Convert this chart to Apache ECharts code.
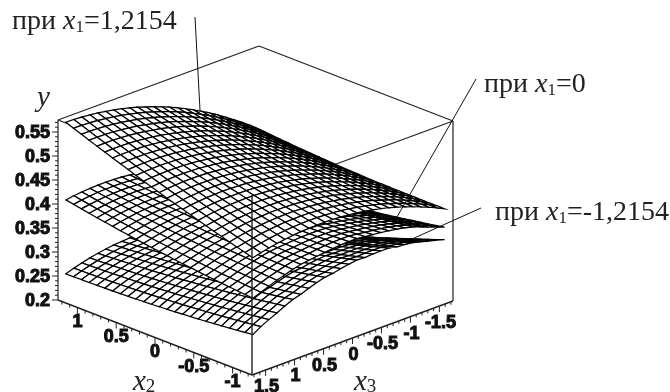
<!DOCTYPE html>
<html>
<head>
<meta charset="utf-8">
<style>
html, body { margin: 0; padding: 0; background: #fff; }
#chart { width: 670px; height: 392px; }
</style>
<script src="https://cdn.jsdelivr.net/npm/echarts@6/dist/echarts.min.js"></script>
</head>
<body>
<div id="chart"></div>
<script>
// mesh nodes of the three surfaces
var x2Nodes = [1.205,1.105,1.004,0.904,0.803,0.703,0.602,0.502,0.402,0.301,0.201,0.1,0,-0.1,-0.201,-0.301,-0.402,-0.502,-0.602,-0.703,-0.803,-0.904,-1.004,-1.105,-1.205];
var x3Nodes = [1.66,1.522,1.384,1.246,1.108,0.971,0.833,0.695,0.557,0.419,0.281,0.143,0.005,-0.133,-0.271,-0.409,-0.547,-0.685,-0.823,-0.96,-1.098,-1.236,-1.374,-1.512,-1.65];

// y, in units of 0.0001; rows follow x2Nodes, columns x3Nodes
var yTop = [
[5700,5695,5684,5669,5647,5620,5589,5551,5509,5461,5407,5349,5285,5215,5141,5060,4975,4885,4788,4687,4580,4468,4351,4228,4100],
[5637,5634,5625,5612,5592,5567,5538,5502,5462,5416,5364,5308,5246,5178,5106,5027,4944,4856,4761,4662,4557,4447,4332,4211,4085],
[5574,5573,5566,5555,5537,5514,5487,5453,5415,5371,5321,5267,5207,5141,5071,4994,4913,4827,4734,4637,4534,4426,4313,4194,4070],
[5512,5513,5508,5499,5483,5462,5437,5405,5369,5327,5279,5227,5169,5105,5037,4962,4883,4799,4708,4613,4512,4406,4295,4178,4056],
[5451,5454,5451,5444,5430,5411,5388,5358,5324,5284,5238,5188,5132,5070,5004,4931,4854,4772,4683,4590,4491,4387,4278,4163,4043],
[5390,5395,5394,5389,5377,5360,5339,5311,5279,5241,5197,5149,5095,5035,4971,4900,4825,4745,4658,4567,4470,4368,4261,4148,4030],
[5330,5337,5338,5335,5325,5310,5291,5265,5235,5199,5157,5111,5059,5001,4939,4870,4797,4719,4634,4545,4450,4350,4245,4134,4018],
[5271,5280,5283,5282,5274,5261,5244,5220,5192,5158,5118,5074,5024,4968,4908,4841,4770,4694,4611,4524,4431,4333,4230,4121,4007],
[5213,5224,5229,5230,5224,5213,5198,5176,5150,5118,5080,5038,4990,4936,4878,4813,4744,4670,4589,4504,4413,4317,4216,4109,3997],
[5155,5168,5175,5178,5174,5165,5152,5132,5108,5078,5042,5002,4956,4904,4848,4785,4718,4646,4567,4484,4395,4301,4202,4097,3987],
[5098,5113,5122,5127,5125,5118,5107,5089,5067,5039,5005,4967,4923,4873,4819,4758,4693,4623,4546,4465,4378,4286,4189,4086,3978],
[5042,5059,5070,5077,5077,5072,5063,5047,5027,5001,4969,4933,4891,4843,4791,4732,4669,4601,4526,4447,4362,4272,4177,4076,3970],
[4987,5006,5019,5028,5030,5027,5020,5006,4988,4964,4934,4900,4860,4814,4764,4707,4646,4580,4507,4430,4347,4259,4166,4067,3963],
[4932,4953,4968,4979,4983,4982,4977,4965,4949,4927,4899,4867,4829,4785,4737,4682,4623,4559,4488,4413,4332,4246,4155,4058,3956],
[4878,4901,4918,4931,4937,4938,4935,4925,4911,4891,4865,4835,4799,4757,4711,4658,4601,4539,4470,4397,4318,4234,4145,4050,3950],
[4825,4850,4869,4884,4892,4895,4894,4886,4874,4856,4832,4804,4770,4730,4686,4635,4580,4520,4453,4382,4305,4223,4136,4043,3945],
[4773,4800,4821,4838,4848,4853,4854,4848,4838,4822,4800,4774,4742,4704,4662,4613,4560,4502,4437,4368,4293,4213,4128,4037,3941],
[4721,4750,4773,4792,4804,4811,4814,4810,4802,4788,4768,4744,4714,4678,4638,4591,4540,4484,4421,4354,4281,4203,4120,4031,3937],
[4670,4701,4726,4747,4761,4770,4775,4773,4767,4755,4737,4715,4687,4653,4615,4570,4521,4467,4406,4341,4270,4194,4113,4026,3934],
[4620,4653,4680,4703,4719,4730,4737,4737,4733,4723,4707,4687,4661,4629,4593,4550,4503,4451,4392,4329,4260,4186,4107,4022,3932],
[4571,4606,4635,4660,4678,4691,4700,4702,4700,4692,4678,4660,4636,4606,4572,4531,4486,4436,4379,4318,4251,4179,4102,4019,3931],
[4522,4559,4590,4617,4637,4652,4663,4667,4667,4661,4649,4633,4611,4583,4551,4512,4469,4421,4366,4307,4242,4172,4097,4016,3930],
[4474,4513,4546,4575,4597,4614,4627,4633,4635,4631,4621,4607,4587,4561,4531,4494,4453,4407,4354,4297,4234,4166,4093,4014,3930],
[4427,4468,4503,4534,4558,4577,4592,4600,4604,4602,4594,4582,4564,4540,4512,4477,4438,4394,4343,4288,4227,4161,4090,4013,3931],
[4380,4423,4460,4493,4519,4540,4557,4567,4573,4573,4567,4557,4541,4519,4493,4460,4423,4381,4332,4279,4220,4156,4087,4012,3932]
];
var yMid = [
[4080,4105,4123,4137,4143,4145,4139,4128,4111,4087,4058,4024,3983,3935,3882,3822,3757,3686,3609,3526,3437,3341,3240,3133,3020],
[4049,4076,4096,4112,4120,4124,4120,4110,4095,4073,4046,4014,3975,3929,3877,3819,3756,3687,3612,3531,3444,3349,3250,3145,3034],
[4019,4047,4069,4087,4097,4103,4101,4093,4079,4059,4034,4004,3967,3923,3873,3816,3755,3688,3615,3536,3451,3358,3260,3157,3048],
[3989,4019,4043,4063,4075,4083,4083,4076,4064,4046,4023,3995,3960,3918,3869,3814,3755,3690,3619,3542,3459,3367,3271,3170,3063],
[3961,3992,4018,4040,4054,4064,4066,4061,4050,4034,4013,3987,3954,3914,3867,3813,3756,3693,3624,3549,3468,3378,3283,3184,3079],
[3932,3965,3993,4017,4033,4045,4049,4045,4036,4022,4003,3979,3948,3910,3864,3812,3757,3696,3629,3556,3477,3388,3295,3198,3095],
[3905,3939,3969,3995,4013,4027,4033,4031,4023,4011,3994,3972,3943,3907,3863,3812,3759,3700,3635,3564,3487,3400,3308,3213,3112],
[3878,3914,3946,3974,3994,4010,4018,4017,4011,4001,3986,3966,3939,3905,3862,3813,3762,3705,3642,3573,3498,3412,3322,3229,3130],
[3853,3890,3924,3954,3976,3994,4004,4005,4000,3992,3979,3961,3936,3904,3863,3815,3766,3711,3650,3583,3510,3426,3337,3246,3149],
[3827,3866,3902,3934,3958,3978,3990,3992,3989,3983,3972,3956,3933,3903,3863,3817,3770,3717,3658,3593,3522,3439,3352,3263,3168],
[3803,3843,3881,3915,3941,3963,3977,3981,3979,3975,3966,3952,3931,3903,3865,3820,3775,3724,3667,3604,3535,3454,3368,3281,3188],
[3779,3821,3861,3897,3925,3949,3965,3970,3970,3968,3961,3949,3930,3904,3867,3824,3781,3732,3677,3616,3549,3469,3385,3300,3209],
[3757,3800,3842,3880,3910,3936,3954,3961,3962,3962,3957,3947,3930,3906,3871,3829,3788,3741,3688,3629,3564,3486,3403,3320,3231],
[3734,3779,3823,3863,3895,3923,3943,3951,3954,3956,3953,3945,3930,3908,3874,3834,3795,3750,3699,3642,3579,3502,3421,3340,3253],
[3713,3759,3805,3847,3881,3911,3933,3943,3947,3951,3950,3944,3931,3911,3879,3840,3803,3760,3711,3656,3595,3520,3440,3361,3276],
[3692,3740,3788,3832,3868,3900,3924,3935,3941,3947,3948,3944,3933,3915,3884,3847,3812,3771,3724,3671,3612,3538,3460,3383,3300],
[3673,3722,3772,3818,3856,3890,3916,3929,3936,3944,3947,3945,3936,3920,3891,3855,3822,3783,3738,3687,3630,3558,3481,3406,3325],
[3653,3704,3756,3804,3844,3880,3908,3922,3931,3941,3946,3946,3939,3925,3897,3863,3832,3795,3752,3703,3648,3577,3502,3429,3350],
[3635,3687,3741,3791,3833,3871,3901,3917,3927,3939,3946,3948,3943,3931,3905,3872,3843,3808,3767,3720,3667,3598,3524,3453,3376],
[3617,3671,3727,3779,3823,3863,3895,3912,3924,3938,3947,3951,3948,3938,3913,3882,3855,3822,3783,3738,3687,3619,3547,3478,3403],
[3601,3656,3714,3768,3814,3856,3890,3909,3922,3938,3949,3955,3954,3946,3923,3893,3868,3837,3800,3757,3708,3642,3571,3504,3431],
[3584,3641,3701,3757,3805,3849,3885,3905,3920,3938,3951,3959,3960,3954,3932,3904,3881,3852,3817,3776,3729,3664,3595,3530,3459],
[3569,3627,3689,3747,3797,3843,3881,3903,3919,3939,3954,3964,3967,3963,3943,3916,3895,3868,3835,3796,3751,3688,3620,3557,3488],
[3554,3614,3678,3738,3790,3838,3878,3901,3919,3941,3958,3970,3975,3973,3954,3929,3910,3885,3854,3817,3774,3712,3646,3585,3518],
[3540,3601,3667,3729,3783,3833,3875,3900,3919,3943,3962,3976,3983,3983,3966,3942,3925,3902,3873,3838,3797,3737,3672,3613,3548]
];
var yBottom = [
[2540,2596,2645,2687,2722,2750,2773,2788,2797,2799,2794,2784,2767,2743,2711,2674,2630,2579,2522,2459,2389,2311,2228,2138,2040],
[2542,2600,2651,2694,2731,2761,2785,2802,2813,2817,2813,2805,2790,2768,2737,2702,2660,2611,2555,2494,2426,2350,2268,2180,2084],
[2544,2604,2656,2701,2740,2772,2797,2816,2829,2835,2832,2826,2813,2793,2763,2730,2690,2643,2588,2529,2463,2388,2308,2222,2128],
[2547,2609,2663,2709,2750,2784,2810,2831,2846,2854,2852,2848,2837,2819,2790,2759,2721,2676,2622,2565,2501,2428,2349,2265,2173],
[2551,2615,2670,2718,2761,2797,2824,2847,2864,2874,2873,2871,2862,2846,2818,2789,2753,2710,2657,2602,2540,2468,2391,2309,2219],
[2555,2621,2678,2727,2772,2810,2838,2863,2882,2894,2894,2894,2887,2873,2846,2819,2785,2744,2692,2639,2579,2509,2433,2353,2265],
[2560,2628,2686,2737,2784,2824,2853,2880,2901,2915,2916,2918,2913,2901,2875,2850,2818,2779,2728,2677,2619,2550,2476,2398,2312],
[2566,2636,2696,2748,2797,2839,2869,2898,2921,2937,2939,2943,2940,2930,2905,2882,2852,2815,2765,2716,2660,2593,2520,2444,2360],
[2573,2645,2706,2760,2811,2855,2886,2917,2942,2960,2963,2969,2968,2960,2936,2915,2887,2852,2803,2756,2702,2636,2565,2491,2409],
[2580,2654,2717,2772,2825,2871,2903,2936,2963,2983,2987,2995,2996,2990,2967,2948,2922,2889,2841,2796,2744,2680,2610,2538,2458],
[2588,2664,2728,2785,2840,2888,2921,2956,2985,3007,3012,3022,3025,3021,2999,2982,2958,2927,2880,2837,2787,2724,2656,2586,2508],
[2597,2675,2741,2799,2856,2906,2940,2977,3008,3032,3038,3050,3055,3053,3032,3017,2995,2966,2920,2879,2831,2770,2703,2635,2559],
[2607,2687,2754,2814,2873,2925,2960,2999,3032,3058,3065,3079,3086,3086,3066,3053,3033,3006,2961,2922,2876,2816,2751,2685,2611],
[2617,2699,2768,2829,2890,2944,2980,3021,3056,3084,3092,3108,3117,3119,3100,3089,3071,3046,3002,2965,2921,2863,2799,2735,2663],
[2628,2712,2782,2845,2908,2964,3001,3044,3081,3111,3120,3138,3149,3153,3135,3126,3110,3087,3044,3009,2967,2910,2848,2786,2716],
[2640,2726,2798,2862,2927,2985,3023,3068,3107,3139,3149,3169,3182,3188,3171,3164,3150,3129,3087,3054,3014,2959,2898,2838,2770],
[2653,2741,2814,2880,2947,3007,3046,3093,3134,3168,3179,3201,3216,3224,3208,3203,3191,3172,3131,3100,3062,3008,2949,2891,2825],
[2666,2756,2831,2898,2967,3029,3069,3118,3161,3197,3209,3233,3250,3260,3245,3242,3232,3215,3175,3146,3110,3058,3000,2944,2880],
[2680,2772,2848,2917,2988,3052,3093,3144,3189,3227,3240,3266,3285,3297,3283,3282,3274,3259,3220,3193,3159,3108,3052,2998,2936],
[2695,2789,2867,2937,3010,3076,3118,3171,3218,3258,3272,3300,3321,3335,3322,3323,3317,3304,3266,3241,3209,3160,3105,3053,2993],
[2711,2807,2886,2958,3033,3101,3144,3199,3248,3290,3305,3335,3358,3374,3362,3365,3361,3350,3313,3290,3260,3212,3159,3109,3051],
[2727,2825,2906,2979,3056,3126,3170,3227,3278,3322,3338,3370,3395,3413,3402,3407,3405,3396,3360,3339,3311,3265,3213,3165,3109],
[2744,2844,2926,3001,3080,3152,3197,3256,3309,3355,3372,3406,3433,3453,3443,3450,3450,3443,3408,3389,3363,3318,3268,3222,3168],
[2762,2864,2948,3024,3105,3179,3225,3286,3341,3389,3407,3443,3472,3494,3485,3494,3496,3491,3457,3440,3416,3373,3324,3280,3228],
[2780,2884,2969,3047,3130,3206,3253,3316,3373,3423,3442,3480,3511,3535,3527,3538,3542,3539,3506,3491,3469,3427,3380,3338,3288]
];

var x2Ticks = [1, 0.5, 0, -0.5, -1];
var x3Ticks = [1.5, 1, 0.5, 0, -0.5, -1, -1.5];
var yTicks = [0.2, 0.25, 0.3, 0.35, 0.4, 0.45, 0.5, 0.55];

var x2Range = [-1.25, 1.25];
var x3Range = [-1.735, 1.735];
var yRange = [0.2, 0.575];

// parallel projection of the box onto the page
function project(x2, x3, y) {
    var u = (x2Range[1] - x2) / (x2Range[1] - x2Range[0]);
    var v = (x3Range[1] - x3) / (x3Range[1] - x3Range[0]);
    return [
        58 + 194 * u + 201 * v,
        300 + 75 * u - 74 * v - (y - yRange[0]) * 480
    ];
}

// far cells first so nearer ones paint over them
var cells = [];
for (var i = 0; i < x2Nodes.length - 1; i++) {
    for (var j = x3Nodes.length - 2; j >= 0; j--) {
        cells.push([i, j]);
    }
}

function surfaceSeries(values) {
    return {
        type: 'custom',
        silent: true,
        clip: false,
        data: cells,
        renderItem: function (params, api) {
            var i = api.value(0), j = api.value(1);
            var node = function (a, b) {
                return api.coord(project(x2Nodes[a], x3Nodes[b], values[a][b] / 10000));
            };
            return {
                type: 'polygon',
                shape: { points: [node(i, j), node(i + 1, j), node(i + 1, j + 1), node(i, j + 1)] },
                style: { fill: '#fff', stroke: '#000', lineWidth: 1.25 }
            };
        }
    };
}

function segmentSeries(segments, lineWidth, z) {
    return {
        type: 'custom',
        silent: true,
        clip: false,
        z: z,
        data: segments.map(function (s, k) { return [k]; }),
        renderItem: function (params, api) {
            var s = segments[api.value(0)];
            var a = api.coord(s[0]), b = api.coord(s[1]);
            return {
                type: 'line',
                shape: { x1: a[0], y1: a[1], x2: b[0], y2: b[1] },
                style: { stroke: '#222', lineWidth: lineWidth }
            };
        }
    };
}

function textSeries(labels) {
    return {
        type: 'custom',
        silent: true,
        clip: false,
        z: 5,
        data: labels.map(function (l, k) { return [k]; }),
        renderItem: function (params, api) {
            var l = labels[api.value(0)];
            var p = api.coord(l.at);
            return {
                type: 'text',
                style: {
                    text: l.text,
                    x: p[0] + l.dx,
                    y: p[1] + l.dy,
                    align: l.align,
                    verticalAlign: 'middle',
                    font: 'bold 18px "Liberation Sans"',
                    fill: '#111',
                    stroke: '#111',
                    lineWidth: 1
                }
            };
        }
    };
}

var x2a = x2Range[0], x2b = x2Range[1], x3a = x3Range[0], x3b = x3Range[1], ya = yRange[0], yb = yRange[1];

// box edges that the surfaces paint over
var boxBack = [
    [project(x2b, x3b, ya), project(x2b, x3b, yb)],
    [project(x2b, x3b, yb), project(x2b, x3a, yb)],
    [project(x2b, x3a, yb), project(x2a, x3a, yb)],
    [project(x2a, x3a, yb), project(x2a, x3a, ya)],
    [project(x2a, x3a, yb), project(x2a, x3b, yb)],
    [project(x2b, x3b, yb), project(x2a, x3b, yb)]
];
// box edges in front of them
var boxFront = [
    [project(x2a, x3b, yb), project(x2a, x3b, ya)],
    [project(x2b, x3b, ya), project(x2a, x3b, ya)],
    [project(x2a, x3b, ya), project(x2a, x3a, ya)]
];

var ticks = [], labels = [];
function tickDown(p, len) {
    ticks.push([p, [p[0], p[1] + len]]);
}
function tickLeft(p, len) {
    ticks.push([p, [p[0] - len, p[1]]]);
}
var k, t, lab;
for (k = 0; k <= 37; k++) {
    t = ya + k * 0.01;
    lab = project(x2b, x3b, t);
    tickLeft(lab, k % 5 === 0 ? 6 : 3);
}
for (k = -12; k <= 12; k++) {
    lab = project(k * 0.1, x3b, ya);
    tickDown(lab, k % 5 === 0 ? 6 : 3);
}
for (k = -17; k <= 17; k++) {
    lab = project(x2a, k * 0.1, ya);
    tickDown(lab, k % 5 === 0 ? 6 : 3);
}
yTicks.forEach(function (v) {
    labels.push({ text: String(v), at: project(x2b, x3b, v), dx: -8, dy: 1, align: 'right' });
});
x2Ticks.forEach(function (v) {
    labels.push({ text: String(v), at: project(v, x3b, ya), dx: 0, dy: 15, align: 'center' });
});
x3Ticks.forEach(function (v) {
    labels.push({ text: String(v), at: project(x2a, v, ya), dx: 1, dy: 17, align: 'center' });
});

function note(left, top, value) {
    return {
        type: 'text',
        left: left,
        top: top,
        z: 10,
        style: {
            text: '{t|при }{i|x}{s|1}{t|=' + value + '}',
            rich: {
                t: { font: '28px "Liberation Serif"', fill: '#222', lineHeight: 32, verticalAlign: 'bottom' },
                i: { font: 'italic 28px "Liberation Serif"', fill: '#222', lineHeight: 32, verticalAlign: 'bottom' },
                s: { font: '17px "Liberation Serif"', fill: '#222', lineHeight: 26, verticalAlign: 'bottom' }
            }
        }
    };
}
function leader(x1, y1, x2, y2) {
    return {
        type: 'line',
        z: 10,
        shape: { x1: x1, y1: y1, x2: x2, y2: y2 },
        style: { stroke: '#111', lineWidth: 1 }
    };
}
function axisName(left, top, name, sub) {
    return {
        type: 'text',
        left: left,
        top: top,
        z: 10,
        style: {
            text: sub ? '{n|' + name + '}{s|' + sub + '}' : '{n|' + name + '}',
            rich: {
                n: { font: 'italic 29px "Liberation Serif"', fill: '#222', lineHeight: 30, verticalAlign: 'bottom' },
                s: { font: '19px "Liberation Serif"', fill: '#222', lineHeight: 25, verticalAlign: 'bottom' }
            }
        }
    };
}

var chart = echarts.init(document.getElementById('chart'));
chart.setOption({
    animation: false,
    backgroundColor: '#fff',
    grid: { left: 0, right: 0, top: 0, bottom: 0 },
    xAxis: { type: 'value', min: 0, max: 670, show: false },
    yAxis: { type: 'value', min: 0, max: 392, inverse: true, show: false },
    series: [
        segmentSeries(boxBack, 1.2, 1),
        surfaceSeries(yBottom),
        surfaceSeries(yMid),
        surfaceSeries(yTop),
        segmentSeries(boxFront, 1.4, 4),
        segmentSeries(ticks, 1, 4),
        textSeries(labels)
    ],
    graphic: [
        note(12, 8, '1,2154'),
        note(484, 71, '0'),
        note(495, 199, '-1,2154'),
        leader(195, 17, 200, 110),
        leader(476, 79, 397, 217),
        leader(481, 208, 412, 239),
        axisName(37, 84, 'y'),
        axisName(133, 368, 'x', '2'),
        axisName(354, 368, 'x', '3')
    ]
});
</script>
</body>
</html>
